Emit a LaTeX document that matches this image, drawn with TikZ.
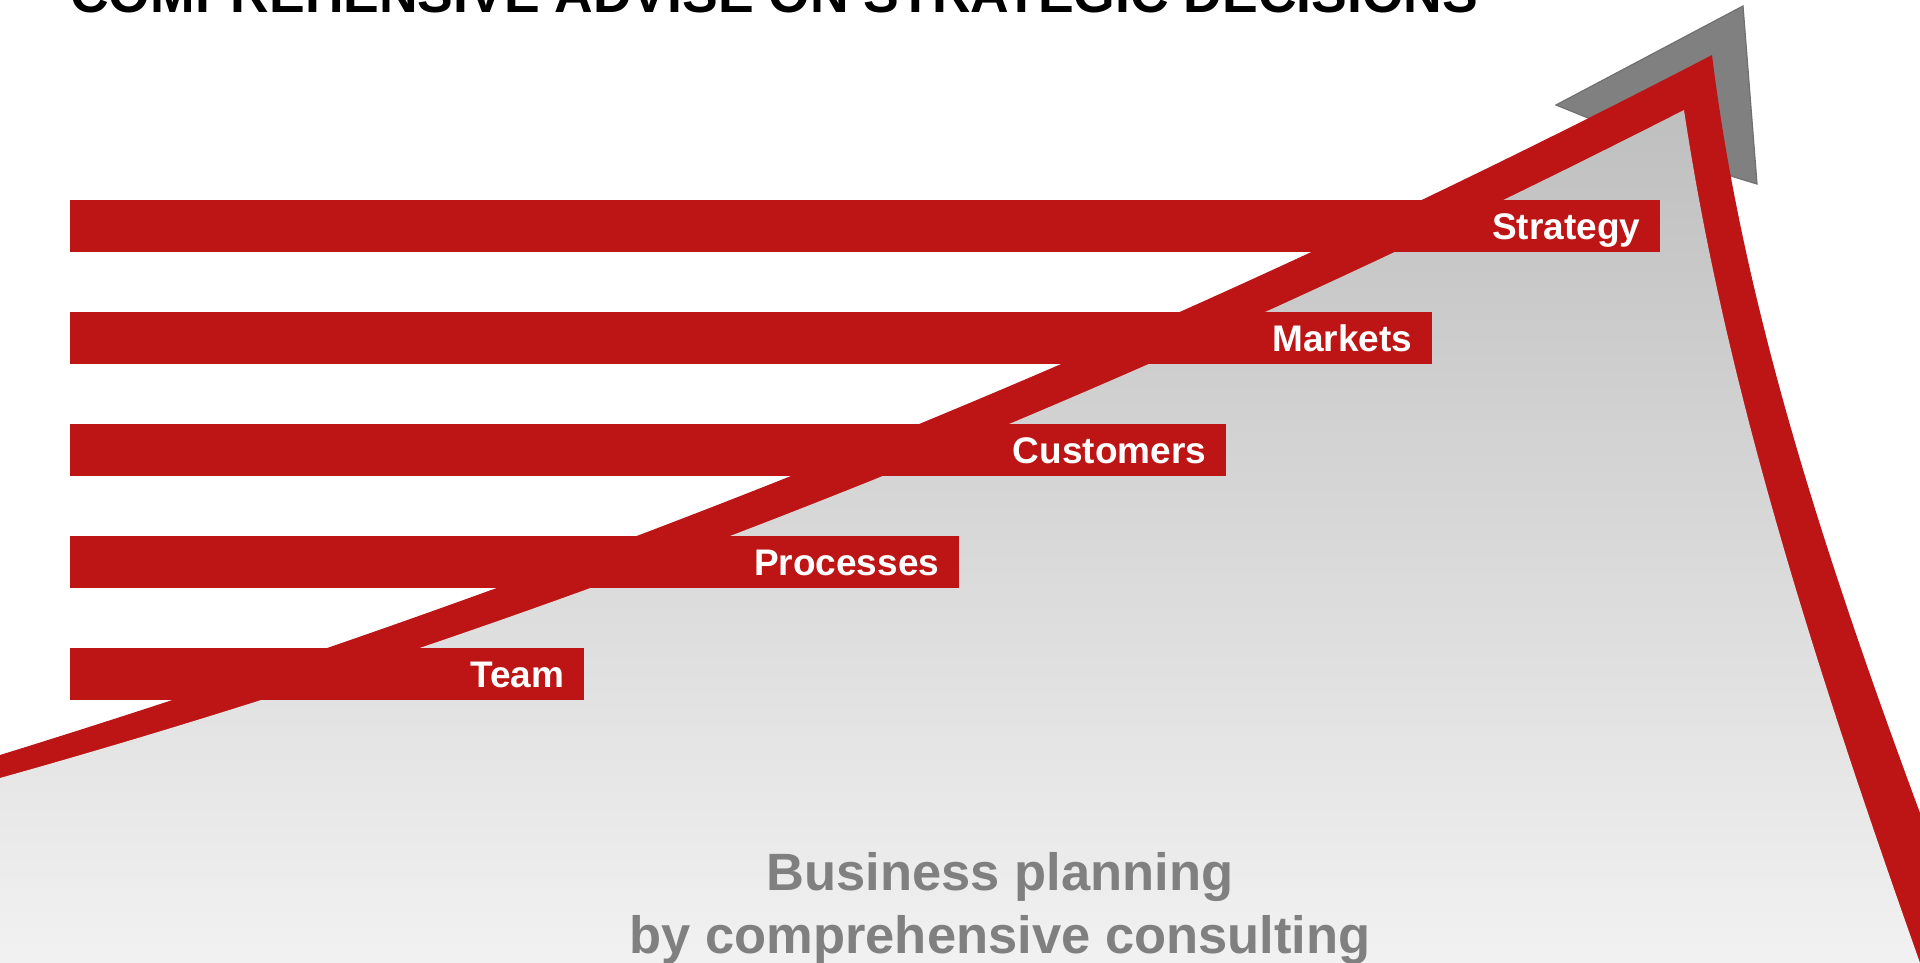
\documentclass[tikz,border=0pt]{standalone}
\usepackage{fontspec}
\setmainfont{Liberation Sans}
\definecolor{brandred}{RGB}{189,21,21}
\definecolor{chevgray}{RGB}{128,128,128}
\definecolor{chevline}{RGB}{112,112,112}
\definecolor{textgray}{RGB}{128,128,128}
\definecolor{shadetop}{RGB}{191,191,191}
\definecolor{shadebot}{RGB}{242,242,242}
\begin{document}
\begin{tikzpicture}[x=1pt,y=-1pt,
  barbox/.style={fill=brandred, draw=none, inner sep=0pt, minimum height=52pt, anchor=north west},
  barlabel/.style={anchor=base east, inner sep=0pt, text=white, font=\bfseries\fontsize{37}{41}\selectfont, xshift=-20pt, yshift=-13pt},
  bottomtext/.style={anchor=base, inner sep=0pt, text=textgray, font=\bfseries\fontsize{52.5}{60}\selectfont}]
\useasboundingbox (0,0) rectangle (1920,963);
\fill[white] (0,0) rectangle (1920,963);
\begin{scope}
\clip (0,0) rectangle (1920,963);
% shadow chevron
\filldraw[fill=chevgray, draw=chevline, line width=1.2pt, line join=miter]
  (1556,105) -- (1743,6) -- (1757,184) -- (1734,177) -- cycle;
% red arrow (outer)
\fill[brandred]
  (-5,756.5) -- (0,755) .. controls (570,578.3) and (1142,351.4) .. (1712,55)
  .. controls (1743,307.7) and (1826.5,560.3) .. (1920,813)
  -- (1930,840) -- (1930,970) -- (-5,970) -- cycle;
% inner shaded area
\shade[top color=shadetop, bottom color=shadebot]
  (-5,779.4) -- (0,778) .. controls (561,620.9) and (1123,396) .. (1684,110)
  .. controls (1726.6,394) and (1819.6,679) .. (1920,963)
  -- (1922,970) -- (-5,970) -- cycle;
% bars
\node[barbox, minimum width=1590pt] (strategy) at (70,200) {};
\node[barbox, minimum width=1362pt] (markets) at (70,312) {};
\node[barbox, minimum width=1156pt] (customers) at (70,424) {};
\node[barbox, minimum width=889pt] (processes) at (70,536) {};
\node[barbox, minimum width=514pt] (team) at (70,648) {};
\node[barlabel] (strategyT) at (strategy.east) {Strategy};
\node[barlabel] (marketsT) at (markets.east) {Markets};
\node[barlabel] (customersT) at (customers.east) {Customers};
\node[barlabel] (processesT) at (processes.east) {Processes};
\node[barlabel] (teamT) at (team.east) {Team};
% title
\node[anchor=base west, inner sep=0pt, font=\bfseries\fontsize{53.5}{60}\selectfont] (title) at (70,13) {COMPREHENSIVE ADVISE ON STRATEGIC DECISIONS};
% bottom text
\node[bottomtext] (bp1) at (1000,890) {Business planning};
\node[bottomtext] (bp2) at (1000,953) {by comprehensive consulting};
\end{scope}
\end{tikzpicture}
\end{document}
